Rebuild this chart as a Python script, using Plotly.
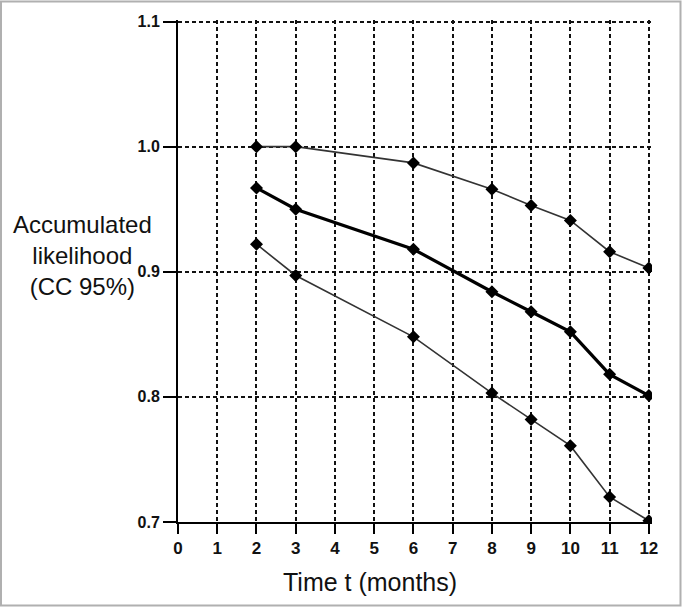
import plotly.graph_objects as go

months = [2, 3, 6, 8, 9, 10, 11, 12]
upper_bound = [1.000, 1.000, 0.987, 0.966, 0.953, 0.941, 0.916, 0.903]
estimate = [0.967, 0.950, 0.918, 0.884, 0.868, 0.852, 0.818, 0.801]
lower_bound = [0.922, 0.897, 0.848, 0.803, 0.782, 0.761, 0.720, 0.701]

x_ticks = list(range(0, 13))
y_ticks = [0.7, 0.8, 0.9, 1.0, 1.1]
y_tick_labels = ["0.7", "0.8", "0.9", "1.0", "1.1"]

W, H = 682, 607
# pixel positions of x=0, x=12.08, y=1.1012, y=0.7
L, R, T, B = 178, 652, 19.5, 522
X_MAX, Y_MAX = 12.08, 1.1012

def px(xp):
    return (xp - L) / (R - L)

def py(yp):
    return (B - yp) / (B - T)

fig = go.Figure()
fig.add_trace(go.Scatter(x=months, y=upper_bound, mode="lines+markers",
                         line=dict(color="#333333", width=1.6),
                         marker=dict(symbol="diamond", size=10, color="black"),
                         showlegend=False, hoverinfo="skip"))
fig.add_trace(go.Scatter(x=months, y=lower_bound, mode="lines+markers",
                         line=dict(color="#333333", width=1.6),
                         marker=dict(symbol="diamond", size=10, color="black"),
                         showlegend=False, hoverinfo="skip"))
fig.add_trace(go.Scatter(x=months, y=estimate, mode="lines+markers",
                         line=dict(color="black", width=3.2),
                         marker=dict(symbol="diamond", size=10, color="black"),
                         showlegend=False, hoverinfo="skip"))

font_fam = "Liberation Sans, Arial, sans-serif"

fig.update_xaxes(range=[0, X_MAX], tickvals=x_ticks,
                 showline=True, linecolor="black", linewidth=2,
                 ticks="outside", ticklen=10, tickwidth=2, tickcolor="black",
                 showgrid=True, gridcolor="#111111", gridwidth=2, griddash="4px,3px",
                 zeroline=False,
                 tickfont=dict(family=font_fam, size=17, color="#111111", weight="bold"))
fig.update_yaxes(range=[0.7, Y_MAX], tickvals=y_ticks, ticktext=y_tick_labels,
                 showline=True, linecolor="black", linewidth=2,
                 ticks="outside", ticklen=13, tickwidth=2, tickcolor="black",
                 showgrid=True, gridcolor="#111111", gridwidth=2, griddash="4px,3px",
                 zeroline=False,
                 tickfont=dict(family=font_fam, size=16, color="#111111", weight="bold"))

fig.add_annotation(text="Accumulated<br>likelihood<br>(CC 95%)", xref="paper", yref="paper",
                   x=px(82), y=py(255), xanchor="center", yanchor="middle",
                   align="center", showarrow=False,
                   font=dict(family=font_fam, size=24, color="#111111"))

fig.add_annotation(text="Time t (months)", xref="paper", yref="paper",
                   x=px(370), y=py(582), xanchor="center", yanchor="middle",
                   showarrow=False, font=dict(family=font_fam, size=25, color="#111111"))

fig.add_shape(type="rect", xref="paper", yref="paper",
              x0=px(1), x1=px(680.5), y0=py(605.5), y1=py(1),
              line=dict(color="#b0b0b0", width=2), layer="below")

fig.update_layout(width=W, height=H, margin=dict(l=L, r=W - R, t=T, b=H - B),
                  paper_bgcolor="white", plot_bgcolor="white", hovermode=False)

fig.write_html("out.html", config={"displayModeBar": False},
               post_script="document.body.style.margin='0px';document.body.style.overflow='hidden';")
